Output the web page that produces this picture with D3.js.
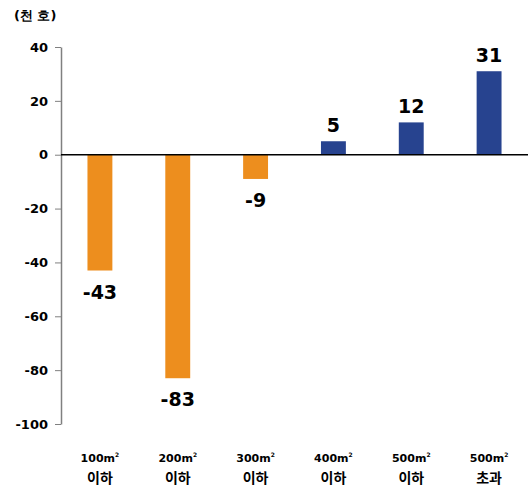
<!DOCTYPE html>
<html>
<head>
<meta charset="utf-8">
<script src="https://cdn.jsdelivr.net/npm/d3@7"></script>
<style>
  body { margin: 0; background: #fff; }
  text { font-family: "DejaVu Sans", Verdana, sans-serif; font-weight: bold; fill: #000; }
</style>
</head>
<body>
<div id="chart"></div>
<script>
var categories = ["100|이하", "200|이하", "300|이하", "400|이하", "500|이하", "500|초과"];
var values = [-43, -83, -9, 5, 12, 31];
var yTicks = [40, 20, 0, -20, -40, -60, -80, -100];
var unitLabel = "(천 호)";

var width = 529, height = 486,
    margin = {top: 47, right: 1, bottom: 62, left: 61};

var svg = d3.select("#chart")
    .append("svg")
    .attr("width", width)
    .attr("height", height);

var x = d3.scaleBand()
    .domain(categories)
    .range([margin.left, width - margin.right])
    .paddingInner(0.68)
    .paddingOuter(0.34);

var y = d3.scaleLinear()
    .domain([-100, 40])
    .range([height - margin.bottom, margin.top]);

// y axis (plain hyphen for negatives, like the original)
var yAxis = svg.append("g")
    .attr("transform", "translate(" + margin.left + ",0)")
    .call(d3.axisLeft(y).tickValues(yTicks).tickFormat(function (d) { return String(d); })
        .tickSize(6).tickPadding(7).tickSizeOuter(0));
yAxis.select(".domain").attr("stroke", "#808080").attr("stroke-width", 1.5);
yAxis.selectAll(".tick line").attr("stroke", "#808080");
yAxis.selectAll(".tick text").style("font-size", "13px");

svg.append("text")
    .attr("x", 14)
    .attr("y", 20)
    .style("font-size", "13px")
    .text(unitLabel);

// bars
svg.selectAll("rect.bar")
    .data(values)
    .enter()
    .append("rect")
    .attr("class", "bar")
    .attr("x", function (d, i) { return x(categories[i]); })
    .attr("width", x.bandwidth())
    .attr("y", function (d) { return y(Math.max(0, d)); })
    .attr("height", function (d) { return Math.abs(y(d) - y(0)); })
    .attr("fill", function (d) { return d < 0 ? "#ED8E1E" : "#27438F"; });

// zero line
svg.append("line")
    .attr("x1", margin.left)
    .attr("x2", width - margin.right)
    .attr("y1", y(0))
    .attr("y2", y(0))
    .attr("stroke", "#000")
    .attr("stroke-width", 1.5);

// value labels
svg.selectAll("text.val")
    .data(values)
    .enter()
    .append("text")
    .attr("class", "val")
    .attr("text-anchor", "middle")
    .style("font-size", "19px")
    .attr("x", function (d, i) { return x(categories[i]) + x.bandwidth() / 2; })
    .attr("y", function (d) { return d < 0 ? y(d) + 28 : y(d) - 9; })
    .text(function (d) { return d; });

// category labels
var cat = svg.selectAll("g.cat")
    .data(categories)
    .enter()
    .append("g")
    .attr("class", "cat")
    .attr("transform", function (d) { return "translate(" + (x(d) + x.bandwidth() / 2) + ",0)"; });

var line1 = cat.append("text")
    .attr("text-anchor", "middle")
    .attr("y", 462)
    .style("font-size", "11px");
line1.append("tspan").text(function (d) { return d.split("|")[0] + "m"; });
line1.append("tspan")
    .attr("dy", -5)
    .style("font-size", "6px")
    .text("2");

cat.append("text")
    .attr("text-anchor", "middle")
    .attr("y", 483)
    .style("font-size", "14px")
    .style("font-family", "'Noto Sans CJK KR', sans-serif")
    .text(function (d) { return d.split("|")[1]; });
</script>
</body>
</html>
